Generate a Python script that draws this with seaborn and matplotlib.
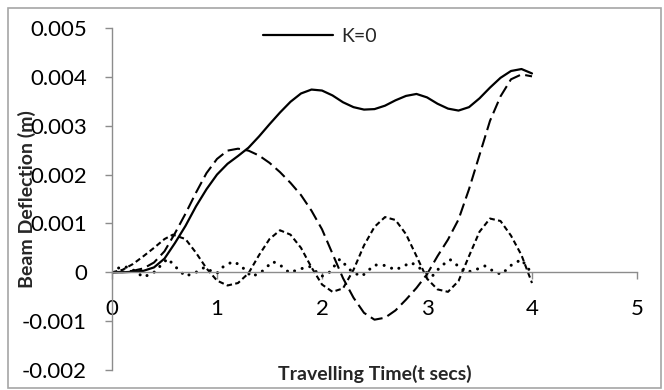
import numpy as np
import pandas as pd
import matplotlib
matplotlib.use("Agg")
import matplotlib.pyplot as plt
import seaborn as sns
from matplotlib.patches import Rectangle

# ---- data ----
t_k0 = [0, 0.1, 0.2, 0.3, 0.4, 0.5, 0.6, 0.7, 0.8, 0.9, 1.0, 1.1, 1.2, 1.3, 1.4,
        1.5, 1.6, 1.7, 1.8, 1.9, 2.0, 2.1, 2.2, 2.3, 2.4, 2.5, 2.6, 2.7, 2.8, 2.9,
        3.0, 3.1, 3.2, 3.3, 3.4, 3.5, 3.6, 3.7, 3.8, 3.9, 4.0]
y_k0 = [0, 0, 0.00001, 0.00003, 0.0001, 0.00028, 0.0006, 0.00095, 0.00135, 0.0017,
        0.002, 0.00222, 0.00238, 0.00255, 0.00278, 0.00303, 0.00327, 0.00349, 0.00366,
        0.00374, 0.00372, 0.00362, 0.00348, 0.00338, 0.00333, 0.00334, 0.00341, 0.00352,
        0.00361, 0.00365, 0.00358, 0.00345, 0.00335, 0.00331, 0.00338, 0.00356, 0.00378,
        0.00398, 0.00412, 0.00416, 0.00407]

t_long = t_k0
y_long = [0, 0.00001, 0.00003, 0.00008, 0.0002, 0.00043, 0.0008, 0.0012, 0.00163, 0.00203,
          0.00232, 0.00249, 0.00253, 0.00249, 0.00239, 0.00224, 0.00205, 0.00183, 0.00158,
          0.00126, 0.00088, 0.00038, -0.00012, -0.00052, -0.00083, -0.00097, -0.00093,
          -0.00078, -0.00056, -0.00032, -0.00004, 0.00033, 0.00067, 0.00108, 0.0017,
          0.0024, 0.0031, 0.0036, 0.00395, 0.00405, 0.00401]

t_short = [0, 0.1, 0.2, 0.3, 0.4, 0.5, 0.58, 0.7, 0.8, 0.9, 1.0, 1.1, 1.2, 1.3, 1.4, 1.5,
           1.6, 1.7, 1.8, 1.9, 2.0, 2.1, 2.2, 2.3, 2.4, 2.5, 2.6, 2.7, 2.8, 2.9, 3.0, 3.1,
           3.2, 3.3, 3.4, 3.5, 3.6, 3.7, 3.8, 3.9, 4.0]
y_short = [0, 0.00005, 0.00017, 0.00033, 0.0005, 0.00068, 0.00077, 0.00068, 0.0004, 0.00008,
           -0.00017, -0.00027, -0.00022, -0.00002, 0.00035, 0.00068, 0.00086, 0.00077,
           0.0005, 0.0001, -0.00025, -0.0004, -0.00033, 0.00005, 0.00055, 0.00093, 0.00113,
           0.00107, 0.00078, 0.00033, -0.00013, -0.00035, -0.0004, -0.00018, 0.00033,
           0.00083, 0.0011, 0.00105, 0.00075, 0.00035, -0.00022]

t_dot = [0, 0.05, 0.12, 0.2, 0.3, 0.4, 0.53, 0.62, 0.7, 0.8, 0.88, 0.95, 1.0, 1.05, 1.15,
         1.22, 1.33, 1.42, 1.53, 1.6, 1.69, 1.78, 1.88, 2.0, 2.07, 2.17, 2.29, 2.38, 2.5,
         2.6, 2.7, 2.85, 2.99, 3.05, 3.13, 3.22, 3.37, 3.45, 3.55, 3.65, 3.71, 3.81, 3.9,
         3.97, 4.0]
y_dot = [0, 0.00008, 0.00012, 0.00005, -0.0001, 0.0, 0.00028, 0.00008, -0.00008, 0.0,
         0.0001, 0.00002, -0.00002, 0.0001, 0.00022, 0.00015, -0.00009, 0.0, 0.00022,
         0.00015, -0.00001, 0.00006, 0.00012, -0.00008, 0.0, 0.00027, 0.0, -0.00008,
         0.00015, 0.00014, 0.00005, 0.0002, 0.0, -0.00008, 0.00012, 0.00026, 0.0, 0.00004,
         0.00013, 0.0, -0.00004, 0.00016, 0.00026, 0.00006, 0.0]

legend_label = "K=0"
x_ticks = [0, 1, 2, 3, 4, 5]
x_tick_labels = ["0", "1", "2", "3", "4", "5"]
y_ticks = [-0.002, -0.001, 0, 0.001, 0.002, 0.003, 0.004, 0.005]
y_tick_labels = ["-0.002", "-0.001", "0", "0.001", "0.002", "0.003", "0.004", "0.005"]
x_label = "Travelling Time(t secs)"
y_label = "Beam Deflection (m)"

# ---- style ----
sns.set_style("white")
plt.rcParams["font.family"] = ["Lato", "DejaVu Sans"]

fig = plt.figure(figsize=(6.64, 3.90), dpi=100)
ax = fig.add_axes([112 / 664, 1 - 370 / 390, 525 / 664, 342 / 390])

df_k0 = pd.DataFrame({"t": t_k0, "y": y_k0})
df_long = pd.DataFrame({"t": t_long, "y": y_long})
df_short = pd.DataFrame({"t": t_short, "y": y_short})
df_dot = pd.DataFrame({"t": t_dot, "y": y_dot})

sns.lineplot(data=df_k0, x="t", y="y", ax=ax, color="black", linewidth=1.6,
             estimator=None, sort=False)
sns.lineplot(data=df_long, x="t", y="y", ax=ax, color="black", linewidth=1.5,
             estimator=None, sort=False)
sns.lineplot(data=df_short, x="t", y="y", ax=ax, color="black", linewidth=1.5,
             estimator=None, sort=False)
sns.lineplot(data=df_dot, x="t", y="y", ax=ax, color="black", linewidth=2.2,
             estimator=None, sort=False)

l_k0, l_long, l_short, l_dot = ax.lines[:4]
l_k0.set_solid_joinstyle("round")
l_long.set_linestyle((0, (6.0, 2.6)))
l_short.set_linestyle((0, (2.6, 1.6)))
l_dot.set_linestyle((0, (0.01, 2.6)))
l_dot.set_dash_capstyle("round")

ax.set_xlim(0, 5)
ax.set_ylim(-0.002, 0.005)

spine_col = "#8c8c8c"
for s in ["top", "right"]:
    ax.spines[s].set_visible(False)
ax.spines["left"].set_position(("data", 0))
ax.spines["bottom"].set_position(("data", 0))
for s in ["left", "bottom"]:
    ax.spines[s].set_color(spine_col)
    ax.spines[s].set_linewidth(1.0)

ax.set_xticks(x_ticks)
ax.set_xticklabels(x_tick_labels)
ax.set_yticks(y_ticks)
ax.set_yticklabels(y_tick_labels)
ax.tick_params(axis="both", which="major", direction="out", length=5, width=1.0,
               color=spine_col, labelsize=16, labelcolor="black")
ax.tick_params(axis="x", pad=14)
ax.tick_params(axis="y", pad=13)
ax.tick_params(axis="y", left=True)
ax.tick_params(axis="x", bottom=True)

ax.set_xlabel(x_label, fontsize=14, fontweight="bold", va="center")
ax.xaxis.set_label_coords(0.5, -0.013)
ax.set_ylabel(y_label, fontsize=14, fontweight="bold", va="center")
ax.yaxis.set_label_coords(-0.162, 0.5)
ax.grid(False)
ax.patch.set_alpha(0)

fig.legend(handles=[l_k0], labels=[legend_label], loc="center left",
           bbox_to_anchor=(263 / 664, 1 - 36 / 390), frameon=False,
           handlelength=3.6, handletextpad=0.4, borderpad=0, borderaxespad=0,
           fontsize=14)

fig.patches.append(Rectangle((8 / 664, 2 / 390), 653 / 664, 380 / 390,
                             transform=fig.transFigure, fill=False,
                             edgecolor="#a6a6a6", linewidth=1.2, zorder=-1))

fig.savefig("out.png", dpi=100)
